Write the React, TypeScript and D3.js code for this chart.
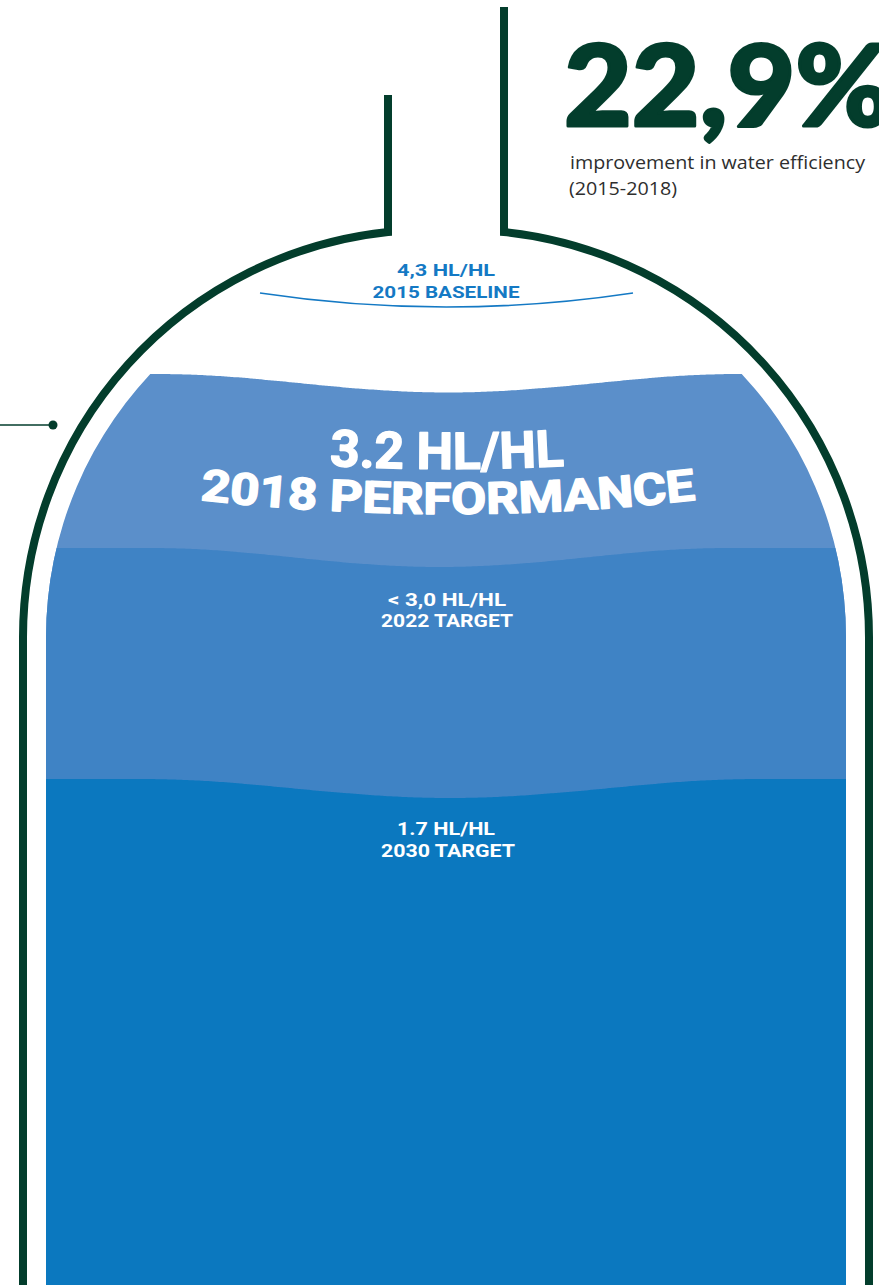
import React, { useEffect } from "react";
import * as d3 from "d3";

// ---- data ----
const levelNames = ["2015 BASELINE", "2018 PERFORMANCE", "2022 TARGET", "2030 TARGET"];
const levelValues = [4.3, 3.2, 3.0, 1.7];
const valueLabels = ["4,3 HL/HL", "3.2 HL/HL", "< 3,0 HL/HL", "1.7 HL/HL"];
const headlineValue = "22,9%";
const headlineText = ["improvement in water efficiency", "(2015-2018)"];

// ---- layout / style ----
const W = 879;
const H = 1285;
const GREEN = "#033d2c";
const layerColors = ["#1479c4", "#5b8fca", "#3f83c5", "#0b78bf"];
const FONT = "Roboto, 'Noto Sans', sans-serif";

// piecewise scale: value -> crest y of the water level
const y = d3.scaleLinear().domain(levelValues).range([293, 374, 548, 779]);

// bottle geometry
const CX = 446;
const OFF = 15.4; // centre offset of shoulder circles
const CY = 637.4;
const R = 407.6;
const INSET = 23;

function bottleSide(side: number, neckTop: number) {
  const p = d3.path();
  const cx = CX + side * OFF;
  const a0 = side < 0 ? -Math.PI / 2 - Math.asin(42.6 / R) : -Math.PI / 2 + Math.asin(42.6 / R);
  const nx = cx + R * Math.cos(a0);
  const ny = CY + R * Math.sin(a0);
  p.moveTo(nx, neckTop);
  p.lineTo(nx, ny);
  if (side < 0) p.arc(cx, CY, R, a0, -Math.PI, true);
  else p.arc(cx, CY, R, a0, 0, false);
  p.lineTo(cx + side * R, H + 20);
  return p.toString();
}

function innerShape() {
  const r = R - INSET;
  const lc = CX - OFF;
  const rc = CX + OFF;
  const dy = Math.sqrt(r * r - OFF * OFF);
  const topY = CY - dy;
  const aL = Math.atan2(topY - CY, CX - lc);
  const aR = Math.atan2(topY - CY, CX - rc);
  const p = d3.path();
  p.moveTo(CX, topY);
  p.arc(lc, CY, r, aL, -Math.PI, true);
  p.lineTo(lc - r, H + 20);
  p.lineTo(rc + r, H + 20);
  p.lineTo(rc + r, CY);
  p.arc(rc, CY, r, 0, aR, true);
  p.closePath();
  return p.toString();
}

// wave: flat crest with a raised-cosine dip
function waveY(top: number, depth: number, c: number, w: number) {
  return (x: number) => {
    const d = Math.abs(x - c);
    if (d >= w) return top;
    return top + (depth * (1 + Math.cos((Math.PI * d) / w))) / 2;
  };
}

const waves = [
  null,
  { depth: 18.5, c: 448, w: 293 },
  { depth: 19, c: 440, w: 290 },
  { depth: 19, c: 450, w: 310 },
];

function textArc(cx: number, cy: number, r: number, hw: number) {
  const d = Math.asin(hw / r);
  const p = d3.path();
  p.arc(cx, cy, r, Math.PI / 2 + d, Math.PI / 2 - d, true);
  return p.toString();
}

export default function App() {
  useEffect(() => {
    document.body.style.margin = "0";
    document.body.style.overflow = "hidden";
  }, []);

  const xs = d3.range(0, W + 4, 3);
  const areas = [1, 2, 3].map((i) => {
    const wv = waves[i]!;
    const f = waveY(y(levelValues[i]), wv.depth, wv.c, wv.w);
    const area = d3
      .area<number>()
      .x((d) => d)
      .y0((d) => f(d))
      .y1(H + 20)
      .curve(d3.curveMonotoneX);
    return { d: area(xs) as string, color: layerColors[i], key: levelNames[i] };
  });

  const baseY = y(levelValues[0]);
  const bp = d3.path();
  bp.moveTo(260, baseY);
  bp.quadraticCurveTo(CX, baseY + 28, 633, baseY);

  const perfTop = y(levelValues[1]);
  const arcCY = perfTop + 140 - 2204;
  const arc1 = textArc(447, arcCY, perfTop + 95 - arcCY, 300);
  const arc2 = textArc(448, arcCY, 2204, 320);

  return (
    <svg width={W} height={H} style={{ position: "absolute", left: 0, top: 0, display: "block", background: "#fff" }}>
      <defs>
        <clipPath id="inner">
          <path d={innerShape()} />
        </clipPath>
        <path id="arc1" d={arc1} />
        <path id="arc2" d={arc2} />
      </defs>

      {/* water layers */}
      <g clipPath="url(#inner)">
        {areas.map((a) => (
          <path key={a.key} d={a.d} fill={a.color} />
        ))}
      </g>

      {/* bottle outline */}
      <path d={bottleSide(-1, 95)} fill="none" stroke={GREEN} strokeWidth={8} strokeLinejoin="miter" />
      <path d={bottleSide(1, 7)} fill="none" stroke={GREEN} strokeWidth={8} strokeLinejoin="miter" />

      {/* connector */}
      <line x1={0} x2={53} y1={425} y2={425} stroke={GREEN} strokeWidth={1.5} />
      <circle cx={53} cy={425} r={4.5} fill={GREEN} />

      {/* baseline */}
      <path d={bp.toString()} fill="none" stroke={layerColors[0]} strokeWidth={1.6} />
      <g fill={layerColors[0]} fontFamily={FONT} fontWeight={700} fontSize={17} textAnchor="middle">
        <text x={CX} y={baseY - 17} textLength={98} lengthAdjust="spacingAndGlyphs">{valueLabels[0]}</text>
        <text x={CX} y={baseY + 5} textLength={147} lengthAdjust="spacingAndGlyphs">{levelNames[0]}</text>
      </g>

      {/* 2018 performance */}
      <g fill="#fff" stroke="#fff" strokeWidth={1.4} strokeLinejoin="round" fontFamily={FONT} fontWeight={700}>
        <text fontSize={51}>
          <textPath href="#arc1" startOffset="50%" textAnchor="middle" textLength={235} lengthAdjust="spacingAndGlyphs">
            {valueLabels[1]}
          </textPath>
        </text>
        <text fontSize={44}>
          <textPath href="#arc2" startOffset="50%" textAnchor="middle" textLength={497} lengthAdjust="spacingAndGlyphs">
            {levelNames[1]}
          </textPath>
        </text>
      </g>

      {/* 2022 */}
      <g fill="#fff" fontFamily={FONT} fontWeight={700} fontSize={18} textAnchor="middle">
        <text x={447} y={y(levelValues[2]) + 58} textLength={118} lengthAdjust="spacingAndGlyphs">{valueLabels[2]}</text>
        <text x={447} y={y(levelValues[2]) + 79} textLength={132} lengthAdjust="spacingAndGlyphs">{levelNames[2]}</text>
      </g>

      {/* 2030 */}
      <g fill="#fff" fontFamily={FONT} fontWeight={700} fontSize={18} textAnchor="middle">
        <text x={446} y={y(levelValues[3]) + 56} textLength={98} lengthAdjust="spacingAndGlyphs">{valueLabels[3]}</text>
        <text x={448} y={y(levelValues[3]) + 78} textLength={134} lengthAdjust="spacingAndGlyphs">{levelNames[3]}</text>
      </g>

      {/* headline */}
      <text x={564} y={126} fill={GREEN} stroke={GREEN} strokeWidth={3} strokeLinejoin="round" fontFamily="Lato, Roboto, sans-serif" fontWeight={900} fontSize={112} textLength={328} lengthAdjust="spacingAndGlyphs">
        {headlineValue}
      </text>
      <g fill="#2e2e2e" fontFamily="'Open Sans', sans-serif" fontWeight={400} fontSize={18.5}>
        <text x={570} y={169} textLength={295} lengthAdjust="spacingAndGlyphs">{headlineText[0]}</text>
        <text x={569} y={195} textLength={108} lengthAdjust="spacingAndGlyphs">{headlineText[1]}</text>
      </g>
    </svg>
  );
}
